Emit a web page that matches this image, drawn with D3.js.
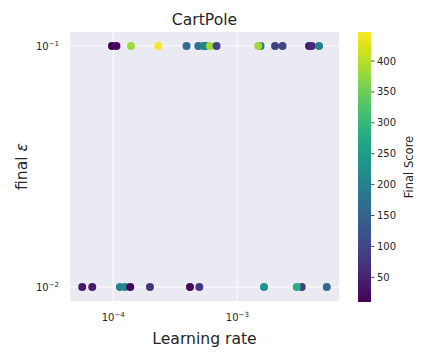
<!DOCTYPE html>
<html>
<head>
<meta charset="utf-8">
<script src="https://cdn.jsdelivr.net/npm/d3@7"></script>
<style>
  body { margin: 0; background: #ffffff; }
  text { font-family: "DejaVu Sans", sans-serif; fill: #262626; }
</style>
</head>
<body>
<svg id="chart" width="432" height="360"></svg>
<script>
// ---- data ----
const learningRates = [
  9.76e-5, 1.061e-4, 1.389e-4, 2.306e-4, 3.894e-4, 4.85e-4, 5.32e-4, 5.59e-4, 6.02e-4, 6.80e-4,
  1.538e-3, 1.477e-3, 2.014e-3, 2.315e-3, 3.785e-3, 3.98e-3, 4.56e-3,
  5.62e-5, 6.77e-5, 1.132e-4, 1.243e-4, 1.371e-4, 1.976e-4, 4.155e-4, 4.94e-4,
  1.641e-3, 3.305e-3, 3.013e-3, 5.26e-3
];
const finalEpsilons = [
  0.1, 0.1, 0.1, 0.1, 0.1, 0.1, 0.1, 0.1, 0.1, 0.1,
  0.1, 0.1, 0.1, 0.1, 0.1, 0.1, 0.1,
  0.01, 0.01, 0.01, 0.01, 0.01, 0.01, 0.01, 0.01,
  0.01, 0.01, 0.01, 0.01
];
const finalScores = [
  12, 20, 385, 445, 165, 180, 190, 205, 385, 97,
  175, 385, 95, 100, 40, 60, 200,
  40, 40, 205, 210, 15, 75, 18, 80,
  235, 90, 280, 160
];
const xTicks = [1e-4, 1e-3];
const xTickExps = ["\u22124", "\u22123"];
const yTicks = [0.1, 0.01];
const yTickExps = ["\u22121", "\u22122"];
const colorTicks = [50, 100, 150, 200, 250, 300, 350, 400];
const scoreDomain = [10, 447];

// ---- layout ----
const svg = d3.select("#chart");
const plot = { left: 70, right: 339, top: 32, bottom: 301 };
const x = d3.scaleLog().domain([4.48e-5, 6.6e-3]).range([plot.left, plot.right]);
const y = d3.scaleLog().domain([0.00875, 0.1143]).range([plot.bottom, plot.top]);
const color = d3.scaleSequential(d3.interpolateViridis).domain(scoreDomain);

// background
svg.append("rect")
  .attr("x", plot.left).attr("y", plot.top)
  .attr("width", plot.right - plot.left).attr("height", plot.bottom - plot.top)
  .attr("fill", "#EAEAF2");

// gridlines
const grid = svg.append("g");
grid.selectAll("line.vx").data(xTicks).join("line")
  .attr("x1", d => x(d)).attr("x2", d => x(d))
  .attr("y1", plot.top).attr("y2", plot.bottom)
  .attr("stroke", "#ffffff").attr("stroke-width", 1);
grid.selectAll("line.hy").data(yTicks).join("line")
  .attr("x1", plot.left).attr("x2", plot.right)
  .attr("y1", d => y(d)).attr("y2", d => y(d))
  .attr("stroke", "#ffffff").attr("stroke-width", 1);

// points
const pts = learningRates.map((lr, i) => ({ lr, eps: finalEpsilons[i], s: finalScores[i] }));
svg.append("g").selectAll("circle").data(pts).join("circle")
  .attr("cx", d => x(d.lr)).attr("cy", d => y(d.eps))
  .attr("r", 4)
  .attr("fill", d => color(d.s));

// x tick labels
const xt = svg.append("g");
xTicks.forEach((t, i) => {
  const tx = xt.append("text")
    .attr("x", x(t)).attr("y", 321)
    .attr("text-anchor", "middle")
    .attr("font-size", 10);
  tx.append("tspan").text("10");
  tx.append("tspan").attr("dy", -4).attr("font-size", 7).text(xTickExps[i]);
});

// y tick labels
const yt = svg.append("g");
yTicks.forEach((t, i) => {
  const ty = yt.append("text")
    .attr("x", 59).attr("y", y(t) + 4)
    .attr("text-anchor", "end")
    .attr("font-size", 10);
  ty.append("tspan").text("10");
  ty.append("tspan").attr("dy", -4).attr("font-size", 7).text(yTickExps[i]);
});

// title & axis labels
svg.append("text")
  .attr("x", (plot.left + plot.right) / 2).attr("y", 25)
  .attr("text-anchor", "middle").attr("font-size", 15.6)
  .text("CartPole");
svg.append("text")
  .attr("x", (plot.left + plot.right) / 2).attr("y", 344)
  .attr("text-anchor", "middle").attr("font-size", 15.6)
  .text("Learning rate");
const yl = svg.append("text")
  .attr("transform", `translate(27, ${(plot.top + plot.bottom) / 2}) rotate(-90)`)
  .attr("text-anchor", "middle").attr("font-size", 15.6);
yl.append("tspan").text("final ");
yl.append("tspan").attr("font-style", "italic").text("\u03b5");

// colorbar
const cb = { left: 358, right: 371, top: 32, bottom: 302 };
const cy = d3.scaleLinear().domain(scoreDomain).range([cb.bottom, cb.top]);
const defs = svg.append("defs");
const grad = defs.append("linearGradient").attr("id", "cbgrad")
  .attr("x1", 0).attr("y1", 1).attr("x2", 0).attr("y2", 0);
d3.range(0, 1.0001, 0.05).forEach(f => {
  grad.append("stop").attr("offset", f).attr("stop-color", d3.interpolateViridis(f));
});
svg.append("rect")
  .attr("x", cb.left).attr("y", cb.top)
  .attr("width", cb.right - cb.left).attr("height", cb.bottom - cb.top)
  .attr("fill", "url(#cbgrad)");
const cbt = svg.append("g");
cbt.selectAll("line").data(colorTicks).join("line")
  .attr("x1", cb.right).attr("x2", cb.right + 3.5)
  .attr("y1", d => cy(d)).attr("y2", d => cy(d))
  .attr("stroke", "#262626").attr("stroke-width", 0.8);
cbt.selectAll("text").data(colorTicks).join("text")
  .attr("x", cb.right + 6).attr("y", d => cy(d))
  .attr("dy", "0.35em").attr("font-size", 10)
  .text(d => d);
svg.append("text")
  .attr("transform", `translate(413, ${(cb.top + cb.bottom) / 2}) rotate(-90)`)
  .attr("text-anchor", "middle").attr("font-size", 11.5)
  .text("Final Score");
</script>
</body>
</html>
